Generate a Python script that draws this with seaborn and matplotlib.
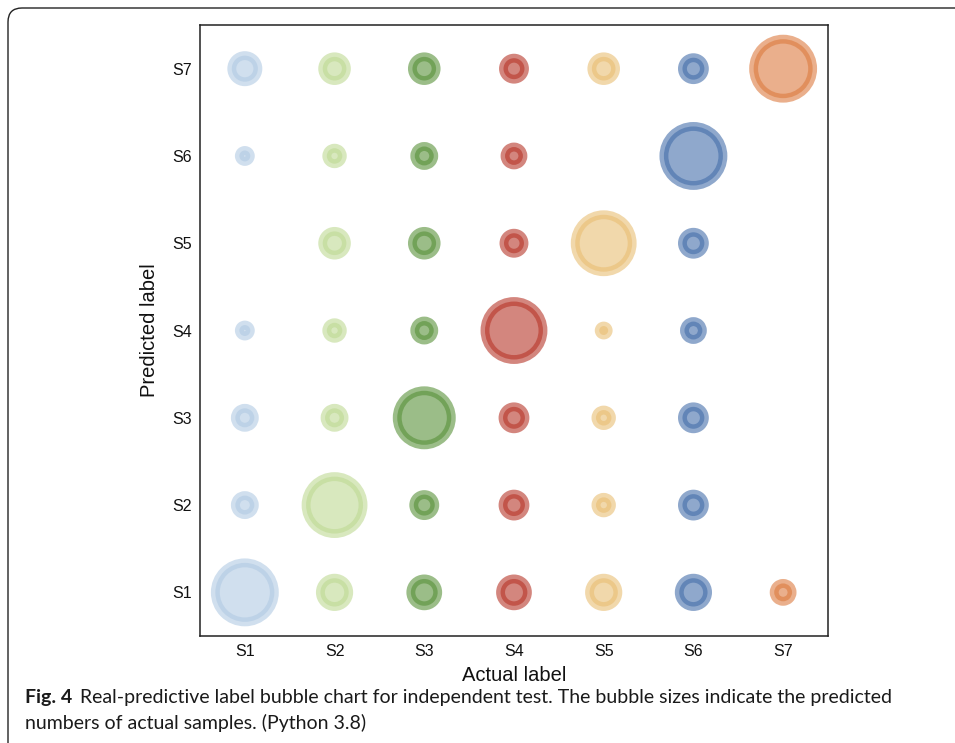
import numpy as np
import pandas as pd
import matplotlib
matplotlib.use("Agg")
import matplotlib.pyplot as plt
from matplotlib.patches import FancyBboxPatch
import seaborn as sns

# Class labels shared by both axes
labels = ["S1", "S2", "S3", "S4", "S5", "S6", "S7"]

# Predicted counts for each actual class, listed from predicted S1 to S7
actual_S1 = [87, 9, 9, 3, 0, 3, 17]
actual_S2 = [20, 81, 9, 6, 14, 6, 14]
actual_S3 = [18, 11, 73, 9, 14, 9, 14]
actual_S4 = [18, 12, 12, 84, 10, 8, 11]
actual_S5 = [20, 6, 6, 2, 81, 0, 14]
actual_S6 = [20, 12, 12, 8, 12, 87, 12]
actual_S7 = [8, 0, 0, 0, 0, 0, 87]

# One colour per actual class
colors = ["#b1cae3", "#bed993", "#589139", "#b73528", "#e9be73", "#446eaa", "#dc7b3f"]

columns = [actual_S1, actual_S2, actual_S3, actual_S4, actual_S5, actual_S6, actual_S7]
rows = []
for i, col in enumerate(columns):
    for j, v in enumerate(col):
        if v > 0:
            rows.append({"actual": i, "predicted": j, "count": v, "cls": labels[i]})
df = pd.DataFrame(rows)

sns.set_style("white")
plt.rcParams["font.family"] = ["Liberation Sans", "DejaVu Sans"]

fig = plt.figure(figsize=(9.55, 7.43), dpi=100)
ax = fig.add_axes([0.2094, 0.1440, 0.6576, 0.8223])

max_count = 87
max_s = (59 * 0.72) ** 2  # marker area for the largest count

sns.scatterplot(
    data=df, x="actual", y="predicted", hue="cls", size="count",
    palette=dict(zip(labels, colors)), sizes=(0, max_s), size_norm=(0, max_count),
    alpha=0.6, edgecolor="face", linewidth=6.4, legend=False, ax=ax,
)

ax.set_xlim(-0.5, 6.5)
ax.set_ylim(-0.5, 6.5)
ax.set_xticks(range(len(labels)))
ax.set_xticklabels(labels)
ax.set_yticks(range(len(labels)))
ax.set_yticklabels(labels)
ax.tick_params(axis="both", length=0, labelsize=11.5, pad=6, colors="#111111")
ax.set_xlabel("Actual label", fontsize=14.5, labelpad=5, color="#111111")
ax.set_ylabel("Predicted label", fontsize=14.5, labelpad=9, color="#111111")
for sp in ax.spines.values():
    sp.set_color("#222222")
    sp.set_linewidth(1.1)

# Figure frame with a rounded corner
frame = FancyBboxPatch(
    (0.08, -0.6), 10.5, 7.35 + 0.6,
    boxstyle="round,pad=0,rounding_size=0.14",
    transform=fig.dpi_scale_trans, fill=False, edgecolor="#222222",
    linewidth=1.0, clip_on=False,
)
fig.add_artist(frame)

# Caption
cap_font = ["Lato", "DejaVu Sans"]
cap_size = 14.0
t1 = fig.text(25 / 955, 1 - 698 / 743, "Fig. 4", fontsize=cap_size, fontweight="bold",
              family=cap_font, va="center", ha="left", color="#1a1a1a")
fig.canvas.draw()
bb = t1.get_window_extent()
fig.text((bb.x1 + 8) / 955, 1 - 698 / 743,
         "Real-predictive label bubble chart for independent test. The bubble sizes indicate the predicted",
         fontsize=cap_size, family=cap_font, va="center", ha="left", color="#1a1a1a")
fig.text(25 / 955, 1 - 723 / 743, "numbers of actual samples. (Python 3.8)",
         fontsize=cap_size, family=cap_font, va="center", ha="left", color="#1a1a1a")

fig.savefig("out.png", dpi=100)
